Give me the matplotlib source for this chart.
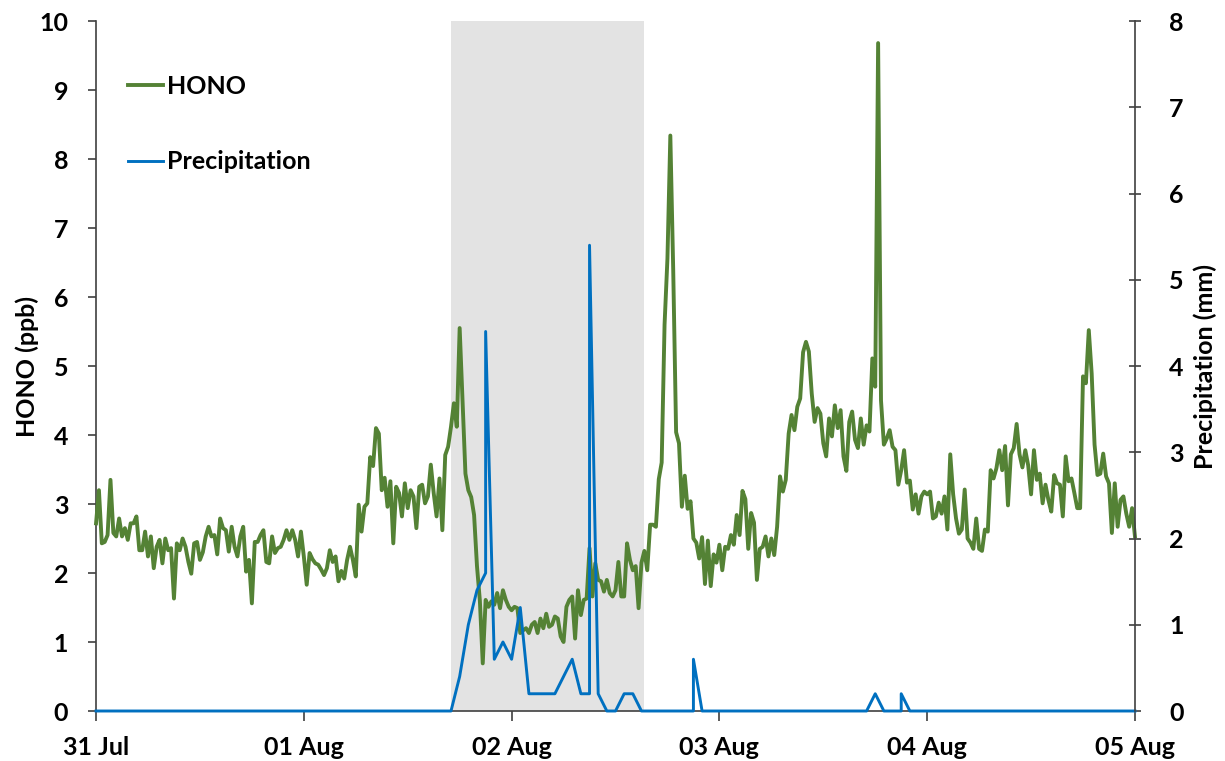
import matplotlib
matplotlib.use("Agg")
import matplotlib.pyplot as plt
import numpy as np

plt.rcParams['font.family'] = ['Lato', 'DejaVu Sans']
plt.rcParams['font.weight'] = 'bold'

# HONO (ppb), 20-minute averages from 31 Jul 00:00 to 05 Aug 00:00
hono_jul31 = [2.72, 3.20, 2.43, 2.45, 2.55, 3.35, 2.58, 2.53, 2.79, 2.53, 2.65, 2.48,
              2.72, 2.72, 2.82, 2.33, 2.33, 2.60, 2.24, 2.53, 2.07, 2.38, 2.48, 2.14,
              2.50, 2.33, 2.36, 1.63, 2.43, 2.33, 2.50, 2.38, 2.16, 1.99, 2.43, 2.45,
              2.19, 2.30, 2.53, 2.67, 2.53, 2.55, 2.27, 2.79, 2.65, 2.62, 2.31, 2.67,
              2.38, 2.24, 2.53, 2.67, 2.02, 2.19, 1.56, 2.45, 2.45, 2.55, 2.62, 2.16,
              2.14, 2.53, 2.29, 2.36, 2.38, 2.48, 2.62, 2.48, 2.62, 2.48, 2.24, 2.60]
hono_aug01 = [2.24, 1.83, 2.29, 2.20, 2.14, 2.12, 2.05, 1.97, 2.07, 2.33, 2.16, 2.24,
              1.88, 2.03, 1.92, 2.19, 2.38, 2.19, 1.95, 2.99, 2.60, 2.96, 3.01, 3.68,
              3.55, 4.10, 4.02, 3.20, 3.38, 2.96, 3.33, 2.43, 3.25, 3.16, 2.82, 3.30,
              2.94, 3.20, 3.11, 2.65, 3.25, 3.28, 3.01, 3.11, 3.57, 3.16, 2.82, 3.37,
              2.62, 3.71, 3.83, 4.12, 4.46, 4.12, 5.55, 4.51, 3.44, 3.20, 3.10, 2.84,
              2.10, 1.60, 0.69, 1.61, 1.51, 1.59, 1.54, 1.71, 1.49, 1.75, 1.61, 1.51]
hono_aug02 = [1.46, 1.51, 1.49, 1.13, 1.17, 1.20, 1.13, 1.25, 1.29, 1.13, 1.34, 1.20,
              1.41, 1.22, 1.25, 1.37, 1.34, 1.08, 1.00, 1.51, 1.61, 1.66, 1.05, 1.75,
              1.39, 1.61, 1.63, 2.36, 1.66, 2.14, 1.90, 1.88, 1.73, 1.90, 1.71, 1.66,
              1.75, 2.16, 1.66, 1.66, 2.43, 2.19, 2.04, 2.10, 1.49, 2.15, 2.32, 2.04,
              2.70, 2.70, 2.67, 3.36, 3.60, 5.60, 6.56, 8.34, 6.39, 4.04, 3.88, 2.96,
              3.41, 2.93, 3.04, 2.50, 2.44, 2.21, 2.52, 1.84, 2.47, 1.81, 2.27, 2.15]
hono_aug03 = [2.41, 2.04, 2.38, 2.35, 2.55, 2.41, 2.84, 2.55, 3.19, 3.07, 2.35, 2.87,
              2.73, 1.90, 2.35, 2.38, 2.53, 2.24, 2.50, 2.26, 2.67, 3.40, 3.18, 3.35,
              4.02, 4.29, 4.07, 4.41, 4.53, 5.20, 5.35, 5.21, 4.60, 4.19, 4.39, 4.31,
              3.88, 3.69, 4.24, 3.98, 4.43, 4.10, 4.36, 3.69, 3.48, 4.19, 4.34, 3.93,
              3.81, 4.24, 3.86, 4.14, 4.05, 5.11, 4.70, 9.68, 4.50, 3.86, 3.95, 4.07,
              3.83, 3.78, 3.28, 3.49, 3.78, 3.31, 3.34, 2.92, 3.14, 2.86, 3.11, 3.18]
hono_aug04 = [3.14, 3.18, 2.79, 2.82, 3.02, 2.86, 3.11, 2.63, 3.72, 3.14, 2.79, 2.57,
              2.63, 3.21, 2.50, 2.44, 2.35, 2.79, 2.35, 2.32, 2.63, 2.60, 3.49, 3.37,
              3.52, 3.78, 3.49, 3.84, 2.98, 3.72, 3.81, 4.16, 3.72, 3.53, 3.78, 3.56,
              3.14, 3.78, 3.35, 3.44, 3.01, 3.28, 3.06, 2.89, 3.42, 3.30, 3.28, 2.82,
              3.69, 3.33, 3.37, 3.16, 2.94, 2.94, 4.85, 4.75, 5.52, 4.89, 3.86, 3.42,
              3.44, 3.73, 3.40, 3.30, 2.58, 3.30, 2.67, 3.06, 3.11, 2.86, 2.67, 2.94,
              2.53]

# Hourly precipitation (mm); hours counted from 31 Jul 00:00
rain_hours = [0, 41, 42, 43, 44, 45, 45, 46, 47, 48, 49, 50, 51, 52, 53, 54, 55, 56,
              57, 57, 58, 59, 60, 61, 62, 63, 69, 69, 70, 89, 90, 91, 93, 93, 94, 120]
rain_mm = [0, 0, 0.4, 1.0, 1.4, 1.6, 4.4, 0.6, 0.8, 0.6, 1.2, 0.2, 0.2, 0.2, 0.2, 0.4, 0.6, 0.2,
           0.2, 5.4, 0.2, 0, 0, 0.2, 0.2, 0, 0, 0.6, 0, 0, 0.2, 0, 0, 0.2, 0, 0]

day_labels = ['31 Jul', '01 Aug', '02 Aug', '03 Aug', '04 Aug', '05 Aug']
rain_event = (41.0, 63.3)   # shaded rain period, hours

hono = np.array(hono_jul31 + hono_aug01 + hono_aug02 + hono_aug03 + hono_aug04)
hono_hours = np.arange(len(hono)) * 20 / 60

axis_col = '#404040'
green = '#548235'
blue = '#0070c0'

fig = plt.figure(figsize=(12.25, 7.61), dpi=100)
ax = fig.add_axes([0.0784, 0.0657, 0.8481, 0.9067])
ax2 = ax.twinx()

ax.axvspan(*rain_event, color='#e3e3e3', lw=0, zorder=0)
l1, = ax.plot(hono_hours, hono, color=green, lw=2.8, label='HONO', clip_on=False, zorder=3)
l2, = ax2.plot(rain_hours, rain_mm, color=blue, lw=2.1, label='Precipitation', clip_on=False)

ax.set_xlim(0, 120)
ax.set_ylim(0, 10)
ax2.set_ylim(0, 8)
ax.set_xticks(range(0, 121, 24))
ax.set_xticklabels(day_labels)
ax.set_yticks(range(0, 11))
ax2.set_yticks(range(0, 9))

for a in (ax, ax2):
    a.spines['top'].set_visible(False)
    for s in a.spines.values():
        s.set_color(axis_col)
        s.set_linewidth(1.2)
ax2.spines['left'].set_visible(False)
ax2.spines['bottom'].set_visible(False)
ax.spines['right'].set_visible(False)

ax.tick_params(axis='y', direction='out', length=6, width=1.2, color=axis_col,
               labelsize=18, pad=14)
ax.tick_params(axis='x', direction='out', length=7, width=1.2, color=axis_col,
               labelsize=18, pad=11)
ax2.tick_params(axis='y', direction='inout', length=9, width=1.2, color=axis_col,
                labelsize=18, pad=20)

ax.set_ylabel('HONO (ppb)', fontsize=18, fontweight='bold', labelpad=0)
ax2.set_ylabel('Precipitation (mm)', fontsize=18, fontweight='bold', labelpad=7)

ax2.legend([l1, l2], ['HONO', 'Precipitation'], loc='upper left',
           bbox_to_anchor=(0.031, 0.922), frameon=False, fontsize=18,
           handlelength=1.4, handletextpad=0.15, labelspacing=2.1,
           borderpad=0, borderaxespad=0)

fig.savefig('out.png', dpi=100)
